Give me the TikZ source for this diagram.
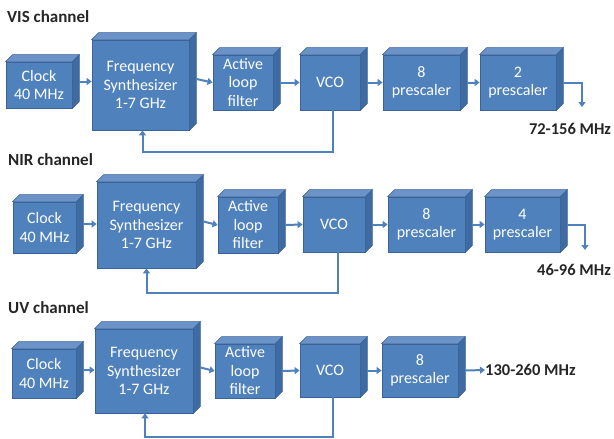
\documentclass[tikz,border=0pt]{standalone}
\usepackage{fontspec}
\setmainfont{Carlito}
\usetikzlibrary{arrows.meta}
\definecolor{bfront}{HTML}{4F81BD}
\definecolor{btop}{HTML}{6B93C8}
\definecolor{bside}{HTML}{3F6BA3}
\definecolor{bedge}{HTML}{3A639A}
\definecolor{ltext}{HTML}{262626}
\tikzset{
  blk/.style={fill=bfront, draw=bedge, line width=0.8pt, text=white, align=center,
    inner sep=0pt, font=\fontsize{16}{18.5}\selectfont},
  arr/.style={draw=bfront, line width=2pt, -{Triangle[length=5pt,width=7pt]}},
  fb/.style={draw=bfront, line width=2pt, -{Triangle[length=5pt,width=7pt]}},
  chan/.style={anchor=west, text=ltext, font=\fontsize{17}{20}\selectfont\bfseries, inner sep=0pt},
  outl/.style={text=ltext, font=\fontsize{16.5}{20}\selectfont\bfseries, inner sep=0pt},
}
\newcommand{\mkfaces}[1]{%
  \fill[btop, draw=bedge, line width=0.6pt] (#1.north west) -- ++(7,-7) -- ([shift={(7,-7)}]#1.north east) -- (#1.north east) -- cycle;
  \fill[bside, draw=bedge, line width=0.6pt] (#1.north east) -- ++(7,-7) -- ([shift={(7,-7)}]#1.south east) -- (#1.south east) -- cycle;
}
\begin{document}
\begin{tikzpicture}[x=1pt, y=-1pt]
\useasboundingbox (0,0) rectangle (614,439);
\fill[white] (0,0) rectangle (614,439);

% ---------- VIS ----------
\node[chan] (lvis) at (7,17) {VIS channel};
\node[blk, minimum width=66pt, minimum height=46pt] (clk1) at (39,85) {Clock\\40 MHz};
\node[blk, minimum width=97pt, minimum height=90pt] (fs1) at (140.5,85) {Frequency\\Synthesizer\\1-7 GHz};
\node[blk, minimum width=60pt, minimum height=55pt] (alf1) at (243,82.5) {Active\\loop\\filter};
\node[blk, minimum width=60pt, minimum height=55pt] (vco1) at (330,82.5) {VCO};
\node[blk, minimum width=77pt, minimum height=55pt] (pa1) at (421.5,82.5) {8\\prescaler};
\node[blk, minimum width=76pt, minimum height=55pt] (pb1) at (518,82.5) {2\\prescaler};
\foreach \n in {clk1,fs1,alf1,vco1,pa1,pb1} {\mkfaces{\n}}
\node[outl] (o1) at (570,129) {72-156 MHz};
\coordinate (t1) at (582,107);
\draw[arr] ([shift={(7,-3.5)}]clk1.east) -- ([yshift=3.5pt]clk1.east -| fs1.west);
\draw[arr] ([shift={(7,-3.5)}]fs1.east |- alf1.east) -- ([yshift=0pt]alf1.west);
\draw[arr] ([shift={(7,0)}]alf1.east) -- (vco1.west);
\draw[arr] ([shift={(7,0)}]vco1.east) -- (pa1.west);
\draw[arr] ([shift={(7,0)}]pa1.east) -- (pb1.west);
\draw[arr] ([shift={(7,0)}]pb1.east) -| (t1);
\draw[fb] ([xshift=3pt]vco1.south) |- ++(-100,42) -| ([xshift=2pt]fs1.south);

% ---------- NIR ----------
\node[chan] (lnir) at (8,160) {NIR channel};
\node[blk, minimum width=63pt, minimum height=51pt] (clk2) at (44.5,227.5) {Clock\\40 MHz};
\node[blk, minimum width=99pt, minimum height=86pt] (fs2) at (146.5,225) {Frequency\\Synthesizer\\1-7 GHz};
\node[blk, minimum width=60pt, minimum height=56pt] (alf2) at (248,225) {Active\\loop\\filter};
\node[blk, minimum width=62pt, minimum height=55pt] (vco2) at (334,224.5) {VCO};
\node[blk, minimum width=77pt, minimum height=55pt] (pa2) at (426.5,224.5) {8\\prescaler};
\node[blk, minimum width=75pt, minimum height=55pt] (pb2) at (522.5,224.5) {4\\prescaler};
\foreach \n in {clk2,fs2,alf2,vco2,pa2,pb2} {\mkfaces{\n}}
\node[outl] (o2) at (574,270) {46-96 MHz};
\coordinate (t2) at (585,250);
\draw[arr] ([shift={(7,-3.5)}]clk2.east) -- ([yshift=3.5pt]clk2.east -| fs2.west);
\draw[arr] ([shift={(7,-3.5)}]fs2.east |- alf2.east) -- (alf2.west);
\draw[arr] ([shift={(7,0)}]alf2.east) -- (vco2.west);
\draw[arr] ([shift={(7,0)}]vco2.east) -- (pa2.west);
\draw[arr] ([shift={(7,0)}]pa2.east) -- (pb2.west);
\draw[arr] ([shift={(7,0)}]pb2.east) -| (t2);
\draw[fb] ([xshift=4pt]vco2.south) |- ++(-100,41) -| ([xshift=0pt]fs2.south);

% ---------- UV ----------
\node[chan] (luv) at (8,308) {UV channel};
\node[blk, minimum width=64pt, minimum height=49pt] (clk3) at (44,373.5) {Clock\\40 MHz};
\node[blk, minimum width=98pt, minimum height=84pt] (fs3) at (144,371) {Frequency\\Synthesizer\\1-7 GHz};
\node[blk, minimum width=60pt, minimum height=54pt] (alf3) at (245,371) {Active\\loop\\filter};
\node[blk, minimum width=60pt, minimum height=53pt] (vco3) at (330,370.5) {VCO};
\node[blk, minimum width=76pt, minimum height=53pt] (pa3) at (420,370.5) {8\\prescaler};
\foreach \n in {clk3,fs3,alf3,vco3,pa3} {\mkfaces{\n}}
\node[outl, anchor=west] (o3) at (485,370) {130-260 MHz};
\draw[arr] ([shift={(7,-3.5)}]clk3.east) -- ([yshift=3.5pt]clk3.east -| fs3.west);
\draw[arr] ([shift={(7,-3.5)}]fs3.east |- alf3.east) -- (alf3.west);
\draw[arr] ([shift={(7,0)}]alf3.east) -- (vco3.west);
\draw[arr] ([shift={(7,0)}]vco3.east) -- (pa3.west);
\draw[arr] ([shift={(7,0)}]pa3.east) -- (o3.west);
\draw[fb] ([xshift=3pt]vco3.south) |- ++(-100,40) -| ([xshift=1pt]fs3.south);
\end{tikzpicture}
\end{document}
